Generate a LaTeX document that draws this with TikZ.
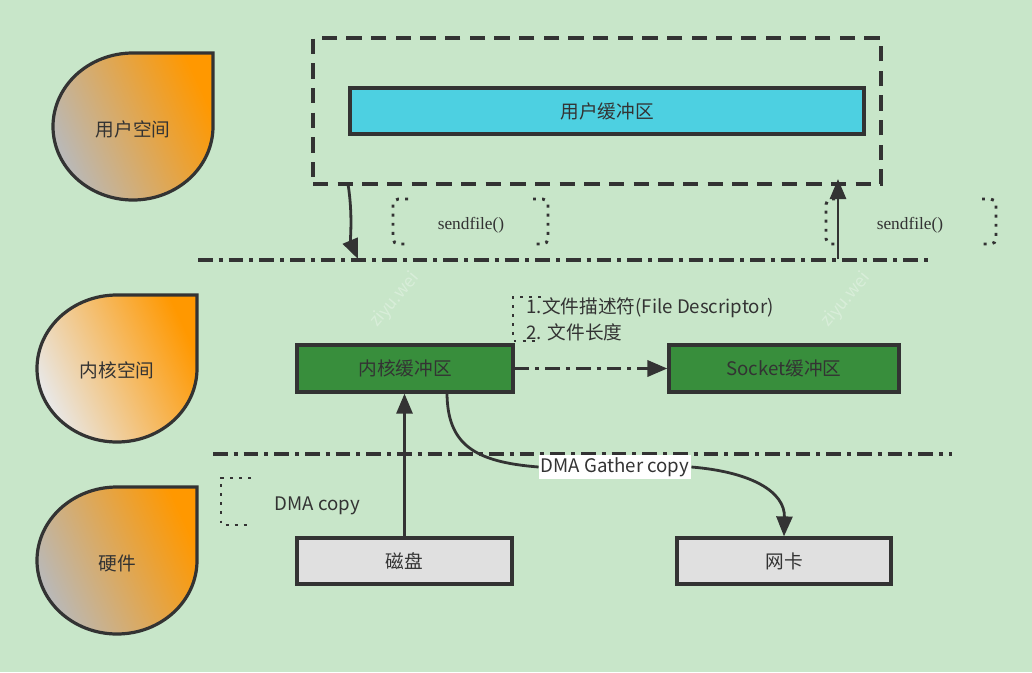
\documentclass[tikz,border=0pt]{standalone}
\usepackage{fontspec}
\setmainfont{Noto Sans CJK SC}
\newfontfamily\serifx{Liberation Serif}
\usetikzlibrary{arrows.meta}
\definecolor{bg}{HTML}{C8E6C9}
\definecolor{ink}{HTML}{333333}
\definecolor{cyanbox}{HTML}{4DD0E1}
\definecolor{greenbox}{HTML}{388E3C}
\definecolor{graybox}{HTML}{E0E0E0}
\definecolor{orng}{HTML}{FF9800}
\newcommand\tdrop[3]{%
  \path[#3] (#1+160,#2) -- (#1+160,#2+73.5)
    .. controls (#1+160,#2+114.1) and (#1+124.2,#2+147) .. (#1+80,#2+147)
    .. controls (#1+35.8,#2+147) and (#1,#2+114.1) .. (#1,#2+73.5)
    .. controls (#1,#2+32.9) and (#1+35.8,#2) .. (#1+80,#2) -- cycle;}
\tikzset{
  txt/.style={text=ink, font=\fontsize{14pt}{16pt}\selectfont, inner sep=1pt},
  bufbox/.style={draw=ink, line width=2.4pt, txt},
  dropfill/.style={draw=ink, line width=2.4pt, top color=#1, bottom color=orng, shading angle=115},
  dashline/.style={draw=ink, line width=2.6pt, dash pattern=on 11pt off 4.5pt on 3pt off 4.5pt},
  dotline/.style={draw=ink, line width=2.2pt, dash pattern=on 2.2pt off 4.6pt},
  conn/.style={draw=ink, line width=2.1pt},
  tip/.style={-{Triangle[length=15pt,width=12pt]}},
  wmark/.style={text=white, opacity=0.3, font=\fontsize{13pt}{15pt}\selectfont, rotate=50}
}
\begin{document}
\begin{tikzpicture}[x=0.75pt,y=-0.75pt]
\fill[bg] (0,0) rectangle (1032,672);
\useasboundingbox (0,0) rectangle (1032,672);

% watermarks
\node[wmark] (w1) at (395,300) {ziyu.wei};
\node[wmark] (w2) at (846,300) {ziyu.wei};

% left teardrops
\tdrop{53}{53}{dropfill=gray!55}
\tdrop{37}{295}{dropfill=gray!18}
\tdrop{37}{487}{dropfill=gray!55}
\node[txt] (lu) at (133,129) {用户空间};
\node[txt] (lk) at (117,370) {内核空间};
\node[txt] (lh) at (117,563) {硬件};

% user space dashed box
\node[draw=ink, line width=2.3pt, dash pattern=on 11.5pt off 7pt, minimum width=426pt, minimum height=109.5pt, inner sep=0pt] (ubox) at (597,111) {};
\node[bufbox, fill=cyanbox, minimum width=385.5pt, minimum height=34.5pt] (ubuf) at (607,111) {用户缓冲区};

% separator lines
\coordinate (s1a) at (198,260);
\coordinate (s1b) at (930,260);
\coordinate (s2a) at (213,454);
\coordinate (s2b) at (952,454);
\draw[dashline] (s1a) -- (s1b);
\draw[dashline] (s2a) -- (s2b);

% sendfile arrows
\coordinate (a1s) at (348,184);
\coordinate (a1e) at (358,259);
\draw[conn, tip] (a1s) .. controls (353,215) and (350,240) .. (a1e);
\coordinate (a2s) at (838,259);
\coordinate (a2e) at (838,179);
\draw[conn, tip] (a2s) -- (a2e);

% sendfile annotations
\draw[dotline, rounded corners=4pt] (408,199) -- (393,199) -- (393,244) -- (408,244);
\draw[dotline, rounded corners=4pt] (533,199) -- (548,199) -- (548,244) -- (533,244);
\node[text=ink, font=\serifx\fontsize{13pt}{15pt}\selectfont] (sf1) at (471,225) {sendfile()};
\draw[dotline, rounded corners=4pt] (835,199) -- (826,199) -- (826,244) -- (835,244);
\draw[dotline, rounded corners=4pt] (982,199) -- (996,199) -- (996,244) -- (982,244);
\node[text=ink, font=\serifx\fontsize{13pt}{15pt}\selectfont] (sf2) at (910,225) {sendfile()};

% kernel buffers
\node[bufbox, fill=greenbox, minimum width=162pt, minimum height=35.25pt] (kbuf) at (405,368.5) {内核缓冲区};
\node[bufbox, fill=greenbox, minimum width=172.5pt, minimum height=35.25pt] (sbuf) at (784,368.5) {Socket缓冲区};
\draw[dashline, tip] (kbuf.east) -- (sbuf.west);

% fd annotation
\draw[dotline] (541,297) -- (513,297) -- (513,341) -- (538,341);
\node[txt, anchor=west] (fd1) at (525,308) {1.文件描述符(File Descriptor)};
\node[txt, anchor=west] (fd2) at (525,332) {2. 文件长度};

% hardware
\node[bufbox, fill=graybox, minimum width=161.25pt, minimum height=34.5pt] (disk) at (404.5,561) {磁盘};
\node[bufbox, fill=graybox, minimum width=160.5pt, minimum height=34.5pt] (nic) at (784,561) {网卡};

% DMA copy
\draw[conn, tip] (disk.north) -- (disk.north |- kbuf.south);
\draw[dotline] (251,478) -- (221,478) -- (221,525) -- (251,525);
\node[txt, anchor=west] (dma) at (273,506) {DMA copy};

% DMA gather copy
\coordinate (g0) at (447,392);
\node[txt, fill=white, inner sep=1.5pt] (gl) at (615,467) {DMA Gather copy};
\draw[conn] (g0) .. controls (447,445) and (475,462) .. (gl.west);
\draw[conn, tip] (gl.east) .. controls (752,472) and (785,492) .. (nic.north);
\end{tikzpicture}
\end{document}
